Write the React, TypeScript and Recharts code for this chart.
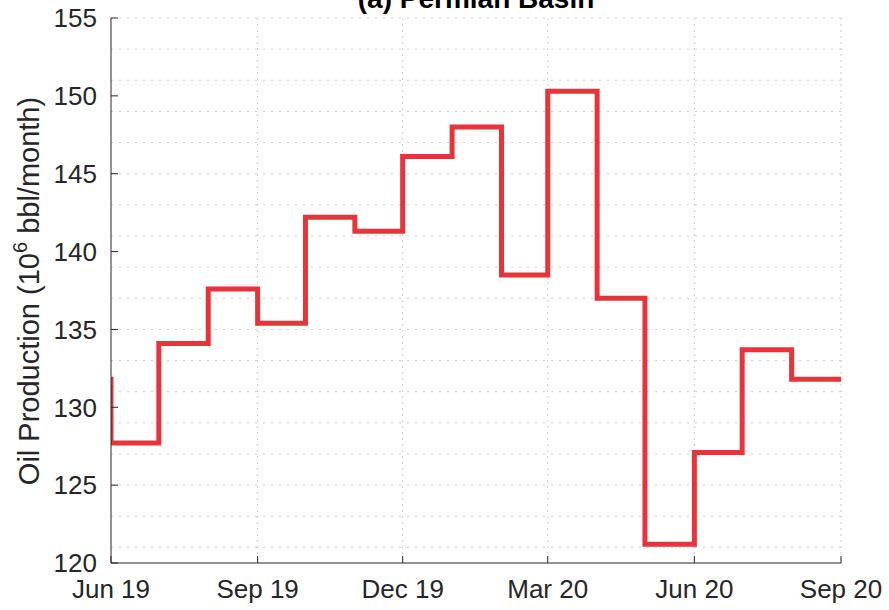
import { LineChart, Line, XAxis, YAxis, CartesianGrid, Customized } from 'recharts';

// monthly Permian Basin production, stairs drawn from the start of each month
const monthStarts = [
  '2019-05-01', '2019-06-01', '2019-07-01', '2019-08-01', '2019-09-01', '2019-10-01',
  '2019-11-01', '2019-12-01', '2020-01-01', '2020-02-01', '2020-03-01', '2020-04-01',
  '2020-05-01', '2020-06-01', '2020-07-01', '2020-08-01', '2020-09-01',
];
const production = [
  131.8, 127.7, 134.1, 137.6, 135.4, 142.2,
  141.3, 146.1, 148.0, 138.5, 150.3, 137.0,
  121.2, 127.1, 133.7, 131.8, 131.8,
];

const tickDates = ['2019-06-01', '2019-09-01', '2019-12-01', '2020-03-01', '2020-06-01', '2020-09-01'];
const tickLabels = ['Jun 19', 'Sep 19', 'Dec 19', 'Mar 20', 'Jun 20', 'Sep 20'];
const yTicks = [120, 125, 130, 135, 140, 145, 150, 155];

const ORIGIN = Date.UTC(2019, 5, 1);
const toDay = (s: string) => Math.round((Date.parse(s + 'T00:00:00Z') - ORIGIN) / 86400000);

const data = monthStarts.map((m, i) => ({ day: toDay(m), value: production[i] }));
const xTicks = tickDates.map(toDay);

const minorY: number[] = [];
for (let v = 121; v <= 155; v++) minorY.push(v);

const FONT = '"Liberation Sans", Arial, Helvetica, sans-serif';
const AXIS = '#262626';
const W = 889;
const H = 610;

function Title() {
  return (
    <text x={476} y={8} textAnchor="middle" fontFamily={FONT} fontSize={28} fontWeight="bold" fill="#000">
      (a) Permian Basin
    </text>
  );
}

function YLabel() {
  return (
    <text transform="translate(39, 291) rotate(-90)" textAnchor="middle" fontFamily={FONT} fontSize={29} fill={AXIS}>
      Oil Production (10<tspan dy={-12} fontSize={20}>6</tspan><tspan dy={12}> bbl/month)</tspan>
    </text>
  );
}

export default function App() {
  return (
    <div style={{ position: 'absolute', left: 0, top: 0, width: W, height: H, background: '#fff' }}>
      <LineChart width={W} height={H} data={data} margin={{ top: 18, right: 48, left: 0, bottom: 0 }}>
        <CartesianGrid vertical={false} horizontalValues={minorY} stroke="#cccccc" strokeDasharray="2 6" />
        <CartesianGrid horizontal={false} verticalValues={xTicks.slice(1)} stroke="#cccccc" strokeDasharray="2 4" />
        <XAxis
          dataKey="day" type="number" domain={[0, xTicks[xTicks.length - 1]]} allowDataOverflow
          ticks={xTicks} tickFormatter={(v: number) => tickLabels[xTicks.indexOf(v)]}
          height={47} tickSize={-7} tickMargin={24}
          stroke={AXIS} tick={{ fill: AXIS, fontSize: 26, fontFamily: FONT }}
        />
        <YAxis
          type="number" domain={[120, 155]} ticks={yTicks} allowDataOverflow
          width={111} tickSize={-7} tickMargin={21}
          stroke={AXIS} tick={{ fill: AXIS, fontSize: 26, fontFamily: FONT }}
        />
        <Line
          dataKey="value" type="stepAfter" stroke="#e9333a" strokeWidth={5}
          strokeLinejoin="miter" strokeLinecap="butt" dot={false} activeDot={false}
          isAnimationActive={false}
        />
        <Customized component={Title} />
        <Customized component={YLabel} />
      </LineChart>
    </div>
  );
}
